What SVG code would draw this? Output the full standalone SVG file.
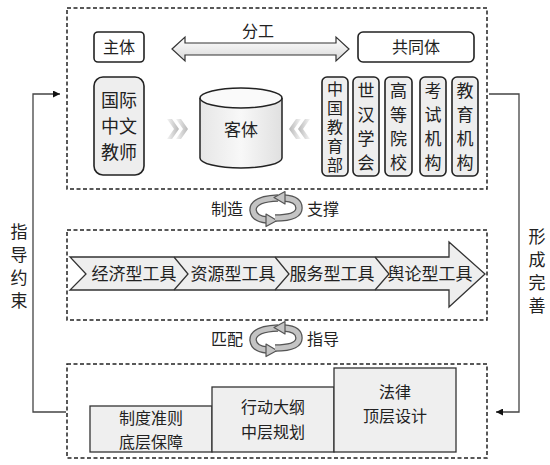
<svg xmlns="http://www.w3.org/2000/svg" width="550" height="465" viewBox="0 0 550 465">
<defs>
<style>
text{font-family:"Noto Sans CJK SC","Liberation Serif",serif;fill:#222;text-anchor:middle;}
.dash{fill:none;stroke:#222;stroke-width:1.5;stroke-dasharray:4 2.5;}
.box{fill:#fff;stroke:#222;stroke-width:1.6;}
.gbox{fill:#eeeeee;stroke:#222;stroke-width:1.6;}
.step{fill:#efefef;stroke:#333;stroke-width:1.3;}
.fb{fill:none;stroke:#444;stroke-width:1.3;}
.t16{font-size:16px;}
.t17{font-size:17px;}
.t18{font-size:18px;}
.vt{font-size:16px;writing-mode:vertical-rl;text-orientation:upright;letter-spacing:3px;}
.rib{fill:none;stroke:#555;stroke-width:7.5;stroke-linecap:butt;}
.ribi{fill:none;stroke:#c4c4c4;stroke-width:5;stroke-linecap:butt;}
.rh{fill:#c4c4c4;stroke:#555;stroke-width:1.2;stroke-linejoin:round;}
</style>
<linearGradient id="gv" x1="0" y1="0" x2="0" y2="1"><stop offset="0" stop-color="#ffffff"/><stop offset="1" stop-color="#d8d8d8"/></linearGradient>
<linearGradient id="gh" x1="0" y1="0" x2="1" y2="0"><stop offset="0" stop-color="#f4f4f4"/><stop offset="1" stop-color="#b8b8b8"/></linearGradient>
<linearGradient id="ghr" x1="1" y1="0" x2="0" y2="0"><stop offset="0" stop-color="#f4f4f4"/><stop offset="1" stop-color="#b8b8b8"/></linearGradient>
<linearGradient id="gcyl" x1="0" y1="0" x2="1" y2="0"><stop offset="0" stop-color="#e6e6e6"/><stop offset="0.5" stop-color="#f8f8f8"/><stop offset="1" stop-color="#e0e0e0"/></linearGradient>
<marker id="ah" viewBox="0 0 10 10" refX="10" refY="5" markerWidth="7" markerHeight="7" orient="auto" markerUnits="userSpaceOnUse"><path d="M0,0 L10,5 L0,10 z" fill="#111"/></marker>
<g id="cyc">
<path class="rib" d="M 3 -11 Q -22 -10 -22 1 Q -21 10 -8 11"/>
<path class="ribi" d="M 3 -11 Q -22 -10 -22 1 Q -21 10 -8 11"/>
<polygon class="rh" points="-9,5 2,11.5 -9,17.5"/>
<path class="rib" d="M 0 9 Q 24 9 24 -1 Q 24 -10 9 -11"/>
<path class="ribi" d="M 0 9 Q 24 9 24 -1 Q 24 -10 9 -11"/>
<polygon class="rh" points="10,-17.5 -1,-11.5 10,-5"/>
</g>
</defs>
<rect width="550" height="465" fill="#fff"/>

<g id="connectors">
<polyline class="fb" points="66,412 33,412 33,94 60,94" marker-end="url(#ah)"/>
<polyline class="fb" points="489,94 519,94 519,412 496,412" marker-end="url(#ah)"/>
<g id="cycle1"><text class="t16" x="227" y="215">制造</text><use href="#cyc" x="275" y="209"/><text class="t16" x="323" y="215">支撑</text></g>
<g id="cycle2"><text class="t16" x="227" y="345">匹配</text><use href="#cyc" x="275" y="339"/><text class="t16" x="323" y="345">指导</text></g>
</g>

<g id="label-left"><text class="t17" x="19" y="238">指</text><text class="t17" x="19" y="261">导</text><text class="t17" x="19" y="284">约</text><text class="t17" x="19" y="307">束</text></g>
<g id="label-right"><text class="t17" x="537" y="243">形</text><text class="t17" x="537" y="266">成</text><text class="t17" x="537" y="289">完</text><text class="t17" x="537" y="312">善</text></g>

<g id="box-top">
<rect class="dash" x="67" y="8" width="420" height="181"/>
<g id="zhuti"><rect class="box" x="94" y="32" width="50" height="30" rx="4"/><text class="t16" x="119" y="53">主体</text></g>
<g id="fengong"><text class="t16" x="258" y="37">分工</text>
<polygon points="172,49 185,37 185,43 336,43 336,37 349,49 336,61 336,55 185,55 185,61" fill="url(#gv)" stroke="#333" stroke-width="1.2"/></g>
<g id="gongtongti"><rect class="box" x="358" y="32" width="116" height="30" rx="5"/><text class="t16" x="416" y="53">共同体</text></g>
<g id="teacher"><rect class="gbox" x="94" y="77" width="50" height="98" rx="9"/>
<text class="t18" x="119" y="107">国际</text><text class="t18" x="119" y="133">中文</text><text class="t18" x="119" y="159">教师</text></g>
<g id="chev-l"><polygon points="167,119 172,119 179,129 172,139 167,139 174,129" fill="url(#gh)"/><polygon points="176,119 181,119 188,129 181,139 176,139 183,129" fill="url(#gh)"/></g>
<g id="keti">
<path d="M200 98 L200 158 A41 10 0 0 0 282 158 L282 98" fill="url(#gcyl)" stroke="#222" stroke-width="1.5"/>
<ellipse cx="241" cy="98" rx="41" ry="10" fill="#fafafa" stroke="#222" stroke-width="1.5"/>
<text class="t17" x="241" y="136">客体</text></g>
<g id="chev-r"><polygon points="310,119 305,119 298,129 305,139 310,139 303,129" fill="url(#ghr)"/><polygon points="301,119 296,119 289,129 296,139 301,139 294,129" fill="url(#ghr)"/></g>
<g id="moe"><rect class="gbox" x="322" y="77" width="26" height="99" rx="5"/>
<text class="vt" x="335" y="81" style="text-anchor:start">中国教育部</text></g>
<g id="shihan"><rect class="gbox" x="353" y="77" width="26" height="99" rx="5"/>
<text class="t17" x="366" y="97">世</text><text class="t17" x="366" y="121">汉</text><text class="t17" x="366" y="145">学</text><text class="t17" x="366" y="169">会</text></g>
<g id="gaodeng"><rect class="gbox" x="385" y="77" width="27" height="99" rx="5"/>
<text class="t17" x="398.5" y="97">高</text><text class="t17" x="398.5" y="121">等</text><text class="t17" x="398.5" y="145">院</text><text class="t17" x="398.5" y="169">校</text></g>
<g id="kaoshi"><rect class="gbox" x="420" y="77" width="26" height="99" rx="5"/>
<text class="t17" x="433" y="97">考</text><text class="t17" x="433" y="121">试</text><text class="t17" x="433" y="145">机</text><text class="t17" x="433" y="169">构</text></g>
<g id="jiaoyu"><rect class="gbox" x="452" y="77" width="26" height="99" rx="5"/>
<text class="t17" x="465" y="97">教</text><text class="t17" x="465" y="121">育</text><text class="t17" x="465" y="145">机</text><text class="t17" x="465" y="169">构</text></g>
</g>

<g id="box-mid">
<rect class="dash" x="67" y="230" width="420" height="90"/>
<polygon points="70,257 449,257 449,242 485,274 449,307 449,290 70,290 86,274" fill="#eeeeee" stroke="#333" stroke-width="1.3"/>
<polyline points="174,257 188,274 174,290" fill="none" stroke="#333" stroke-width="1.3"/>
<polyline points="275,257 289,274 275,290" fill="none" stroke="#333" stroke-width="1.3"/>
<polyline points="375,257 389,274 375,290" fill="none" stroke="#333" stroke-width="1.3"/>
<g id="tool1"><text class="t17" x="134" y="280">经济型工具</text></g>
<g id="tool2"><text class="t17" x="233" y="280">资源型工具</text></g>
<g id="tool3"><text class="t17" x="332" y="280">服务型工具</text></g>
<g id="tool4"><text class="t17" x="430" y="280">舆论型工具</text></g>
</g>

<g id="box-bottom">
<rect class="dash" x="67" y="364" width="420" height="94"/>
<g id="step1"><rect class="step" x="90" y="406" width="122" height="46"/><text class="t16" x="151" y="424">制度准则</text><text class="t16" x="151" y="448">底层保障</text></g>
<g id="step2"><rect class="step" x="212" y="387" width="122" height="65"/><text class="t16" x="273" y="413">行动大纲</text><text class="t16" x="273" y="438">中层规划</text></g>
<g id="step3"><rect class="step" x="334" y="368" width="122" height="84"/><text class="t16" x="395" y="398">法律</text><text class="t16" x="395" y="422">顶层设计</text></g>
</g>
</svg>
